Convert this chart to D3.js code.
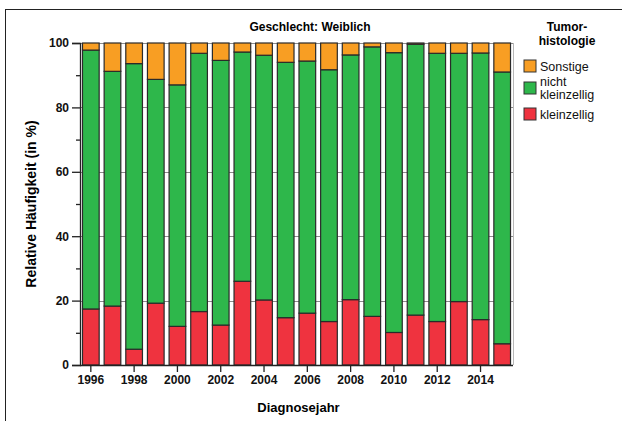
<!doctype html>
<html>
<head>
  <meta charset="utf-8">
  <script src="https://cdnjs.cloudflare.com/ajax/libs/d3/7.8.5/d3.min.js"></script>
  <style>
    body { margin: 0; background: #fff; }
    svg { display: block; font-family: "Liberation Sans", Arial, sans-serif; }
    .tick text { font-weight: bold; font-size: 12px; fill: #111; }
  </style>
</head>
<body>
<svg width="622" height="421"></svg>
<script>
  // Werte (in %)
  var years = [1996, 1997, 1998, 1999, 2000, 2001, 2002, 2003, 2004, 2005,
               2006, 2007, 2008, 2009, 2010, 2011, 2012, 2013, 2014, 2015];
  var kleinzellig = [17.4, 18.3, 4.9, 19.2, 12.0, 16.6, 12.4, 26.0, 20.2, 14.7,
                     16.1, 13.5, 20.3, 15.1, 10.1, 15.5, 13.5, 19.7, 14.1, 6.6];
  var nichtKleinzellig = [80.4, 72.9, 88.7, 69.5, 75.0, 80.2, 82.2, 71.2, 76.0, 79.3,
                          78.3, 78.2, 76.0, 83.7, 86.9, 84.1, 83.3, 77.1, 82.8, 84.4];
  var sonstige = [2.2, 8.8, 6.4, 11.3, 13.0, 3.2, 5.4, 2.8, 3.8, 6.0,
                  5.6, 8.3, 3.7, 1.2, 3.0, 0.4, 3.2, 3.2, 3.1, 9.0];
  var seriesKeys = ["kleinzellig", "nicht", "sonstige"];
  var seriesColors = ["#ef333f", "#2eb74b", "#f89e23"];
  var legendLabels = [["Sonstige"], ["nicht", "kleinzellig"], ["kleinzellig"]];
  var yTicks = [0, 20, 40, 60, 80, 100];
  var xTickYears = [1996, 1998, 2000, 2002, 2004, 2006, 2008, 2010, 2012, 2014];

  var rows = years.map(function (y, i) {
    return { year: y, kleinzellig: kleinzellig[i], nicht: nichtKleinzellig[i], sonstige: sonstige[i] };
  });

  var svg = d3.select("svg");
  var pLeft = 80, pRight = 513, pTop = 43, pBottom = 365;

  // Rahmen (oben und links)
  svg.append("line").attr("x1", 5).attr("x2", 622).attr("y1", 9.5).attr("y2", 9.5)
    .attr("stroke", "#222").attr("stroke-width", 1);
  svg.append("line").attr("x1", 5.5).attr("x2", 5.5).attr("y1", 9).attr("y2", 421)
    .attr("stroke", "#222").attr("stroke-width", 1);

  var x = d3.scaleBand().domain(years).range([pLeft, pRight]).paddingInner(0.23).paddingOuter(0.115);
  var y = d3.scaleLinear().domain([0, 100]).range([pBottom, pTop]);

  // Gitterlinien
  svg.append("g").selectAll("line").data(yTicks.slice(1)).enter().append("line")
    .attr("x1", pLeft).attr("x2", pRight)
    .attr("y1", function (d) { return Math.round(y(d)) + 0.5; })
    .attr("y2", function (d) { return Math.round(y(d)) + 0.5; })
    .attr("stroke", "#8a8a8a").attr("stroke-width", 1);
  svg.append("line").attr("x1", pRight + 0.5).attr("x2", pRight + 0.5).attr("y1", pTop).attr("y2", pBottom)
    .attr("stroke", "#b8b8b8");

  var stack = d3.stack().keys(seriesKeys)(rows);

  svg.append("g").selectAll("g").data(stack).enter().append("g")
    .attr("fill", function (d, i) { return seriesColors[i]; })
    .selectAll("rect").data(function (d) { return d; }).enter().append("rect")
    .attr("x", function (d) { return x(d.data.year); })
    .attr("width", x.bandwidth())
    .attr("y", function (d) { return y(d[1]); })
    .attr("height", function (d) { return y(d[0]) - y(d[1]); })
    .attr("stroke", "#2a2a2a").attr("stroke-width", 1.2);

  // Achsen
  svg.append("g").attr("transform", "translate(" + pLeft + ",0)")
    .call(d3.axisLeft(y).tickValues(yTicks).tickSize(8).tickPadding(3));
  svg.append("g").attr("transform", "translate(" + pLeft + ",0)")
    .call(d3.axisLeft(y).tickValues([10, 30, 50, 70, 90]).tickSize(4).tickFormat(""))
    .select(".domain").remove();
  var xAxis = svg.append("g").attr("transform", "translate(0," + pBottom + ")")
    .call(d3.axisBottom(x).tickValues(xTickYears).tickSize(7).tickPadding(3).tickSizeOuter(0));
  svg.selectAll(".domain").attr("stroke", "#222").attr("stroke-width", 1.3);
  svg.selectAll(".tick line").attr("stroke", "#222").attr("stroke-width", 1.3);
  xAxis.select(".domain").attr("d", "M" + pLeft + ",0.5H" + pRight);

  // Titel
  svg.append("text").attr("x", 310).attr("y", 31).attr("text-anchor", "middle")
    .style("font-weight", "bold").style("font-size", "12px").text("Geschlecht: Weiblich");
  svg.append("text").attr("transform", "translate(36," + ((pTop + pBottom) / 2) + ") rotate(-90)")
    .attr("text-anchor", "middle").style("font-weight", "bold").style("font-size", "14px")
    .text("Relative Häufigkeit (in %)");
  svg.append("text").attr("x", (pLeft + pRight) / 2 + 2).attr("y", 412).attr("text-anchor", "middle")
    .style("font-weight", "bold").style("font-size", "13px").text("Diagnosejahr");

  // Legende
  var lg = svg.append("g");
  lg.append("text").attr("x", 567).attr("y", 31).attr("text-anchor", "middle")
    .style("font-weight", "bold").style("font-size", "12px").text("Tumor-");
  lg.append("text").attr("x", 567).attr("y", 45).attr("text-anchor", "middle")
    .style("font-weight", "bold").style("font-size", "12px").text("histologie");
  var legendColors = seriesColors.slice().reverse();
  var legendY = [60, 82, 108];
  legendLabels.forEach(function (lines, i) {
    lg.append("rect").attr("x", 524).attr("y", legendY[i]).attr("width", 12).attr("height", 12)
      .attr("fill", legendColors[i]).attr("stroke", "#333").attr("stroke-width", 1);
    lines.forEach(function (t, j) {
      lg.append("text").attr("x", 540)
        .attr("y", legendY[i] + 11 + (lines.length > 1 ? (j - 1) * 13 + 6 : 0))
        .style("font-size", "12.5px").style("fill", "#111").text(t);
    });
  });
</script>
</body>
</html>
